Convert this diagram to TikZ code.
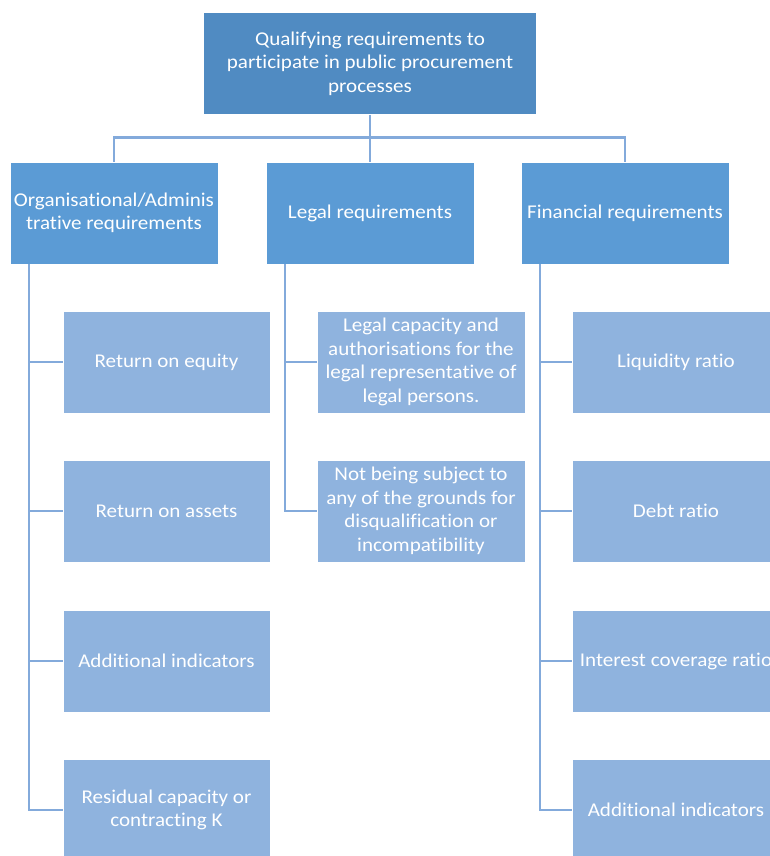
\documentclass[tikz,border=0pt]{standalone}
\usepackage{fontspec}
\setmainfont[FakeStretch=1.08, Ligatures=NoCommon]{Carlito}
\definecolor{rootblue}{HTML}{508BC2}
\definecolor{headblue}{HTML}{5B9BD5}
\definecolor{leafblue}{HTML}{8FB3DE}
\definecolor{linkblue}{HTML}{83AADB}
\begin{document}
\begin{tikzpicture}[x=1bp,y=-1bp,
  box/.style={rectangle, draw=white, line width=0.8bp, text=white, align=center,
    font=\fontsize{19.5bp}{23.5bp}\selectfont, inner sep=2bp, minimum height=102bp},
  rootbox/.style={box, fill=rootblue, minimum width=333bp},
  headbox/.style={box, fill=headblue, minimum width=208bp},
  leafbox/.style={box, fill=leafblue, minimum width=208bp},
  link/.style={draw=linkblue, line width=2.8bp}]
\useasboundingbox (0,0) rectangle (770,856);
\clip (0,0) rectangle (770,856);

% top of the hierarchy
\node[rootbox] (root) at (370,63.5) {Qualifying requirements to\\participate in public procurement\\processes};

% requirement groups
\node[headbox] (org)   at (114,213) {Organisational/Adminis\\trative requirements};
\node[headbox] (legal) at (370,213) {Legal requirements};
\node[headbox] (fin)   at (625,213) {Financial requirements};

% organisational items
\node[leafbox, minimum width=207bp] (o1) at (166.5,362) {Return on equity};
\node[leafbox, minimum width=207bp] (o2) at (166.5,511) {Return on assets};
\node[leafbox, minimum width=207bp] (o3) at (166.5,661) {Additional indicators};
\node[leafbox, minimum width=207bp] (o4) at (166.5,810) {Residual capacity or\\contracting K};

% legal items
\node[leafbox] (l1) at (421,362) {Legal capacity and\\authorisations for the\\legal representative of\\legal persons.};
\node[leafbox] (l2) at (421,511) {Not being subject to\\any of the grounds for\\disqualification or\\incompatibility};

% financial items (the last column runs past the right edge)
\node[leafbox] (f1) at (676,362) {Liquidity ratio};
\node[leafbox] (f2) at (676,511) {Debt ratio};
\node[leafbox] (f3) at (676,661) {Interest coverage ratio};
\node[leafbox] (f4) at (676,810) {Additional indicators};

% root to groups
\draw[link] (root.south) -- (legal.north);
\draw[link] (org.north) -- ++(0,-24) -| (fin.north);

% group trunks to items
\foreach \g/\items in {org/{o1,o2,o3,o4}, legal/{l1,l2}, fin/{f1,f2,f3,f4}}
  \foreach \i in \items
    \draw[link] ([xshift=-85bp]\g.south) |- (\i.west);
\end{tikzpicture}
\end{document}
